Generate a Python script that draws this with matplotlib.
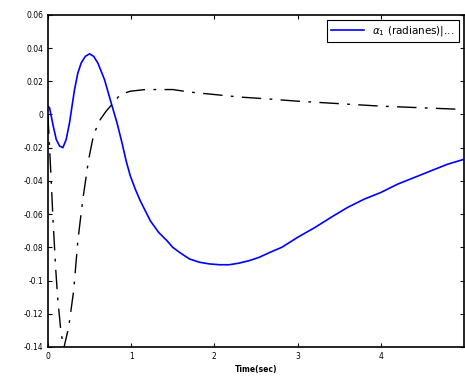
import numpy as np
import matplotlib.pyplot as plt

# angle response
t_blue = [0, 0.02, 0.06, 0.1, 0.14, 0.18, 0.22, 0.26, 0.29, 0.32, 0.36, 0.4, 0.45, 0.5,
          0.55, 0.6, 0.64, 0.68, 0.72, 0.76, 0.83, 0.89, 0.94, 0.99, 1.05, 1.11, 1.17, 1.23,
          1.33, 1.43, 1.5, 1.58, 1.7, 1.82, 1.94, 2.06, 2.18, 2.3, 2.42, 2.54, 2.67, 2.81,
          3.0, 3.21, 3.4, 3.6, 3.8, 4.0, 4.2, 4.4, 4.6, 4.8, 5.0]
y_blue = [0.005, 0.004, -0.006, -0.015, -0.019, -0.020, -0.015, -0.005, 0.005, 0.015, 0.025,
          0.031, 0.035, 0.0365, 0.035, 0.031, 0.026, 0.021, 0.014, 0.007, -0.005, -0.017,
          -0.028, -0.037, -0.045, -0.052, -0.058, -0.064, -0.071, -0.076, -0.080, -0.083,
          -0.087, -0.089, -0.090, -0.0905, -0.0905, -0.0895, -0.088, -0.086, -0.083, -0.080,
          -0.074, -0.068, -0.062, -0.056, -0.051, -0.047, -0.042, -0.038, -0.034, -0.030,
          -0.027]

t_dash = [0, 0.02, 0.04, 0.06, 0.095, 0.12, 0.155, 0.19, 0.25, 0.31, 0.36, 0.42, 0.49, 0.55,
          0.63, 0.7, 0.77, 0.87, 0.99, 1.17, 1.5, 1.7, 2.0, 2.3, 2.6, 3.0, 3.5, 4.0, 4.5, 5.0]
y_dash = [0, -0.02, -0.04, -0.062, -0.094, -0.112, -0.13, -0.141, -0.128, -0.106, -0.076,
          -0.051, -0.027, -0.012, -0.003, 0.002, 0.006, 0.012, 0.014, 0.015, 0.015, 0.0135,
          0.012, 0.0105, 0.0095, 0.008, 0.0065, 0.005, 0.004, 0.003]

xticks = [0, 1, 2, 3, 4]
yticks = [0.06, 0.04, 0.02, 0, -0.02, -0.04, -0.06, -0.08, -0.1, -0.12, -0.14]
ytick_labels = ['0.06', '0.04', '0.02', '0', '-0.02', '-0.04', '-0.06', '-0.08', '-0.1', '-0.12', '-0.14']

fig = plt.figure(figsize=(4.65, 3.8), dpi=100)
ax = fig.add_axes([0.103, 0.087, 0.895, 0.874])

ax.plot(t_blue, y_blue, color=(0, 0, 1), lw=1.2, label=r'$\alpha_1$ (radianes)|...')
ax.plot(t_dash, y_dash, color='black', lw=1.0, dashes=(14, 6, 2, 6))

ax.set_xlim(0, 5)
ax.set_ylim(-0.14, 0.06)
ax.set_xticks(xticks)
ax.set_xticklabels([str(x) for x in xticks])
ax.set_yticks(yticks)
ax.set_yticklabels(ytick_labels)
ax.tick_params(direction='in', top=True, right=True, labelsize=5.5, length=3, width=0.8)
for s in ax.spines.values():
    s.set_linewidth(1.2)

ax.set_xlabel('Time(sec)', fontsize=5.5, labelpad=3, fontweight='bold')
leg = ax.legend(loc='upper right', fontsize=7.5, fancybox=False, edgecolor='black',
                framealpha=1, borderaxespad=0.5, handlelength=3.2)
leg.get_frame().set_linewidth(0.8)

plt.savefig('out.png', dpi=100)
